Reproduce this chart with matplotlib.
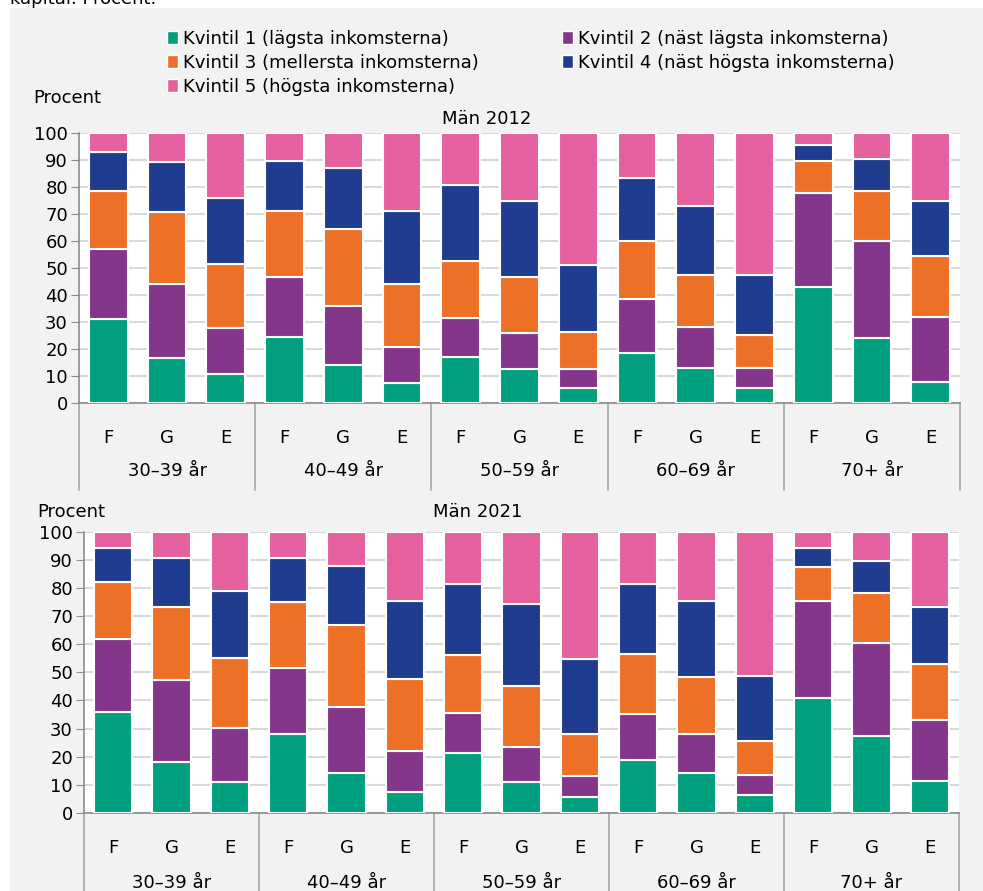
import numpy as np
import matplotlib.pyplot as plt
from matplotlib.patches import Rectangle, Patch

# data (percent of each bar)
groups = ['30–39 år', '40–49 år', '50–59 år', '60–69 år', '70+ år']
subcats = ['F', 'G', 'E']
quint_names = ['Kvintil 1 (lägsta inkomsterna)', 'Kvintil 2 (näst lägsta inkomsterna)',
               'Kvintil 3 (mellersta inkomsterna)', 'Kvintil 4 (näst högsta inkomsterna)',
               'Kvintil 5 (högsta inkomsterna)']
colors = ['#00a07e', '#84368a', '#ee7026', '#1f3c8f', '#e5609e']

# Män 2012, order: 30-39 F,G,E, 40-49 F,G,E, ...
q1_2012 = [31.0, 16.5, 10.6, 24.6, 13.9, 7.5, 17.0, 12.5, 5.7, 18.5, 12.9, 5.6, 43.1, 24.1, 7.7]
q2_2012 = [26.0, 27.6, 17.2, 22.2, 22.1, 13.4, 14.3, 13.3, 7.0, 19.9, 15.2, 7.3, 34.7, 35.9, 24.2]
q3_2012 = [21.5, 26.5, 23.5, 24.4, 28.3, 23.1, 21.2, 21.0, 13.6, 21.6, 19.2, 12.2, 11.8, 18.6, 22.4]
q4_2012 = [14.3, 18.8, 24.7, 18.6, 22.8, 27.1, 28.2, 28.2, 24.9, 23.2, 25.7, 22.2, 5.8, 11.7, 20.4]
q5_2012 = [7.2, 10.6, 24.0, 10.2, 12.9, 28.9, 19.3, 25.0, 48.8, 16.8, 27.0, 52.7, 4.6, 9.7, 25.3]

# Män 2021
q1_2021 = [35.9, 18.1, 11.0, 28.2, 14.1, 7.5, 21.2, 10.9, 5.6, 18.8, 14.3, 6.3, 40.9, 27.5, 11.4]
q2_2021 = [26.1, 29.2, 19.3, 23.2, 23.7, 14.7, 14.2, 12.4, 7.4, 16.3, 13.9, 7.1, 34.5, 32.9, 21.7]
q3_2021 = [20.0, 26.0, 24.8, 23.5, 28.9, 25.3, 20.6, 21.7, 15.2, 21.3, 20.3, 12.3, 12.0, 17.7, 20.0]
q4_2021 = [12.3, 17.5, 23.9, 15.9, 21.1, 28.0, 25.3, 29.3, 26.5, 24.9, 26.9, 23.1, 6.7, 11.6, 20.0]
q5_2021 = [5.7, 9.2, 21.0, 9.2, 12.2, 24.5, 18.7, 25.7, 45.3, 18.7, 24.6, 51.2, 5.9, 10.3, 26.9]

W, H = 983, 891
fs = 13
plt.rcParams['font.family'] = 'DejaVu Sans'

fig = plt.figure(figsize=(W / 100, H / 100), dpi=100, facecolor='white')
fig.patches.append(Rectangle((10 / W, 0), 1, 1 - 8 / H, transform=fig.transFigure,
                             facecolor='#f2f2f2', edgecolor='none', zorder=-10))
fig.text(10 / W, 1 - 4 / H, 'kapital. Procent.', fontsize=fs, va='baseline', ha='left')


def draw_panel(rect, series, title, title_x, procent_x, label_drop, sep_drop, title_gap):
    ax = fig.add_axes(rect)
    ax.set_facecolor('white')
    x = np.arange(15)
    bottom = np.zeros(15)
    for vals, c in zip(series, colors):
        ax.bar(x, vals, bottom=bottom, width=0.66, color=c, edgecolor='white',
               linewidth=1.5, zorder=3)
        bottom += np.array(vals)
    ax.set_xlim(-0.5, 14.5)
    ax.set_ylim(0, 100)
    ax.set_yticks(range(0, 101, 10))
    ax.yaxis.grid(True, color='#d9d9d9', linewidth=1.5, zorder=0)
    for s in ['top', 'right']:
        ax.spines[s].set_visible(False)
    for s in ['left', 'bottom']:
        ax.spines[s].set_color('#8c8c8c')
        ax.spines[s].set_linewidth(1.2)
    ax.tick_params(axis='y', labelsize=fs, length=6, color='#8c8c8c', pad=2)
    ax.set_xticks(x)
    ax.set_xticklabels(subcats * 5, fontsize=fs)
    ax.tick_params(axis='x', length=0, pad=label_drop[0])
    for i, g in enumerate(groups):
        ax.text(3 * i + 1, label_drop[1], g, transform=ax.get_xaxis_transform(),
                ha='center', va='center', fontsize=fs)
    for b in np.arange(-0.5, 15, 3):
        ax.plot([b, b], [0, sep_drop], transform=ax.get_xaxis_transform(),
                color='#a6a6a6', linewidth=1.2, clip_on=False)
    fig.text(title_x, rect[1] + rect[3] + title_gap, title, ha='center', va='bottom', fontsize=fs)
    fig.text(procent_x, rect[1] + rect[3] + 0.029, 'Procent', ha='left', va='bottom', fontsize=fs)
    return ax


top_rect = [79 / W, 1 - 403 / H, 881 / W, 270 / H]
bot_rect = [84 / W, 1 - 813 / H, 875 / W, 281.3 / H]
ax1 = draw_panel(top_rect, [q1_2012, q2_2012, q3_2012, q4_2012, q5_2012],
                 'Män 2012', 487 / W, 33 / W, (19, -0.25), -0.322, 0.006)
ax2 = draw_panel(bot_rect, [q1_2021, q2_2021, q3_2021, q4_2021, q5_2021],
                 'Män 2021', 478 / W, 37 / W, (19, -0.25), -0.3, 0.012)
fig.texts[-1].set_y(bot_rect[1] + bot_rect[3] + 0.012)

handles = [Patch(facecolor=c, edgecolor='white') for c in colors]
order = [0, 2, 4, 1, 3]
fig.legend([handles[i] for i in order], [quint_names[i] for i in order], ncol=2,
           loc='upper left', bbox_to_anchor=(158 / W, 1 - 21 / H), frameon=False,
           fontsize=fs, handlelength=0.6, handleheight=0.7, handletextpad=0.3,
           labelspacing=0.32, columnspacing=4.6, borderpad=0)

fig.savefig('out.png', dpi=100, facecolor=fig.get_facecolor())
